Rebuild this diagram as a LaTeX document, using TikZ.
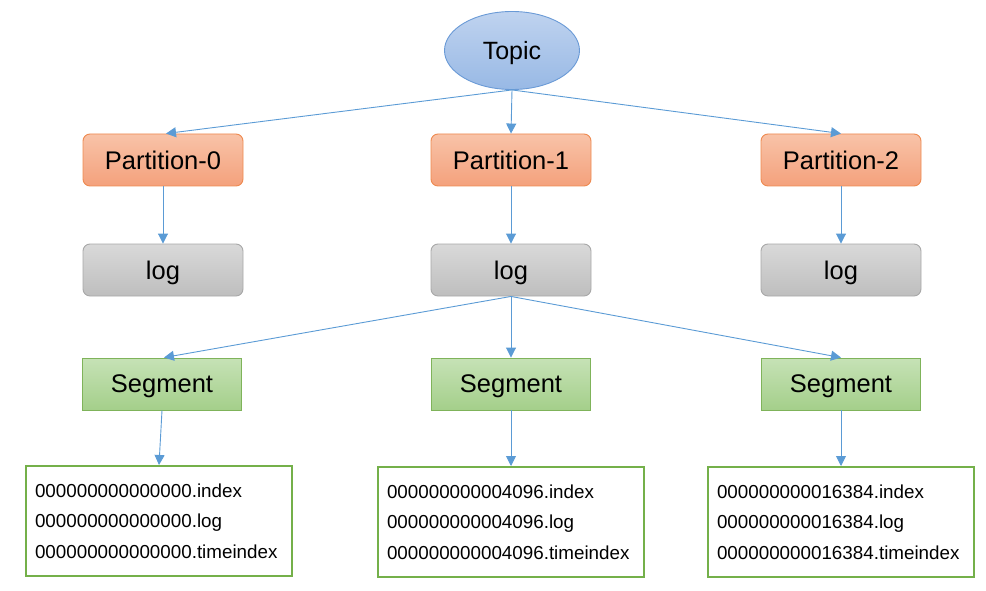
\documentclass[tikz,border=0pt]{standalone}
\usepackage{fontspec}
\setmainfont{Liberation Sans}
\usetikzlibrary{arrows.meta,shapes.geometric}
\definecolor{arrowblue}{HTML}{5B9BD5}
\definecolor{topicborder}{HTML}{6A9AD6}
\definecolor{topictop}{HTML}{BFD3EF}
\definecolor{topicbot}{HTML}{98B9E5}
\definecolor{partborder}{HTML}{EE8A50}
\definecolor{parttop}{HTML}{F8C3A8}
\definecolor{partbot}{HTML}{F4A17C}
\definecolor{logborder}{HTML}{A8A8A8}
\definecolor{logtop}{HTML}{D9D9D9}
\definecolor{logbot}{HTML}{BEBEBE}
\definecolor{segborder}{HTML}{7FB35A}
\definecolor{segtop}{HTML}{C6E2B6}
\definecolor{segbot}{HTML}{A4CF8A}
\definecolor{fileborder}{HTML}{74B04A}
\tikzset{
  x=1pt, y=-1pt,
  topicnode/.style={ellipse, draw=topicborder, line width=0.9pt, top color=topictop, bottom color=topicbot,
    minimum width=135pt, minimum height=78pt, inner sep=0pt, text depth=0pt, font=\fontsize{25}{30}\selectfont},
  partnode/.style={rectangle, rounded corners=7pt, draw=partborder, line width=0.9pt, top color=parttop, bottom color=partbot,
    minimum width=160pt, minimum height=52pt, inner sep=0pt, text depth=0pt, font=\fontsize{25.5}{30}\selectfont},
  lognode/.style={rectangle, rounded corners=7pt, draw=logborder, line width=0.9pt, top color=logtop, bottom color=logbot,
    minimum width=160pt, minimum height=52pt, inner sep=0pt, text depth=0pt, font=\fontsize{25.5}{30}\selectfont},
  segnode/.style={rectangle, draw=segborder, line width=0.9pt, top color=segtop, bottom color=segbot,
    minimum width=159pt, minimum height=52pt, inner sep=0pt, text depth=0pt, font=\fontsize{25.5}{30}\selectfont},
  filenode/.style={rectangle, draw=fileborder, line width=2pt, fill=white,
    minimum width=266pt, minimum height=110pt, inner xsep=9pt, inner ysep=0pt, text width=248pt, align=left,
    font=\fontsize{18.8}{30.5}\selectfont},
  conn/.style={draw=arrowblue, line width=0.9pt, -{Triangle[length=10pt,width=10pt]}}
}
\begin{document}
\begin{tikzpicture}
\useasboundingbox (0,0) rectangle (986,591);
\node[topicnode] (topic) at (512,50.5) {Topic};
\node[partnode] (p0) at (163,160) {Partition-0};
\node[partnode] (p1) at (511,160) {Partition-1};
\node[partnode] (p2) at (841,160) {Partition-2};
\node[lognode] (l0) at (163,270) {log};
\node[lognode] (l1) at (511,270) {log};
\node[lognode] (l2) at (841,270) {log};
\node[segnode] (s0) at (162,384) {Segment};
\node[segnode] (s1) at (511,384) {Segment};
\node[segnode] (s2) at (841,384) {Segment};
\node[filenode] (f0) at (159,521) {000000000000000.index\\000000000000000.log\\000000000000000.timeindex};
\node[filenode] (f1) at (511,522) {000000000004096.index\\000000000004096.log\\000000000004096.timeindex};
\node[filenode] (f2) at (841,522) {000000000016384.index\\000000000016384.log\\000000000016384.timeindex};
\draw[conn] (topic.south) -- ([xshift=3pt]p0.north);
\draw[conn] (topic.south) -- (p1.north);
\draw[conn] (topic.south) -- (p2.north);
\draw[conn] (p0) -- (l0);
\draw[conn] (p1) -- (l1);
\draw[conn] (p2) -- (l2);
\draw[conn] (l1.south) -- ([xshift=2pt]s0.north);
\draw[conn] (l1.south) -- (s1.north);
\draw[conn] (l1.south) -- (s2.north);
\draw[conn] (s0.south) -- (f0.north);
\draw[conn] (s1) -- (f1);
\draw[conn] (s2) -- (f2);
\end{tikzpicture}
\end{document}
